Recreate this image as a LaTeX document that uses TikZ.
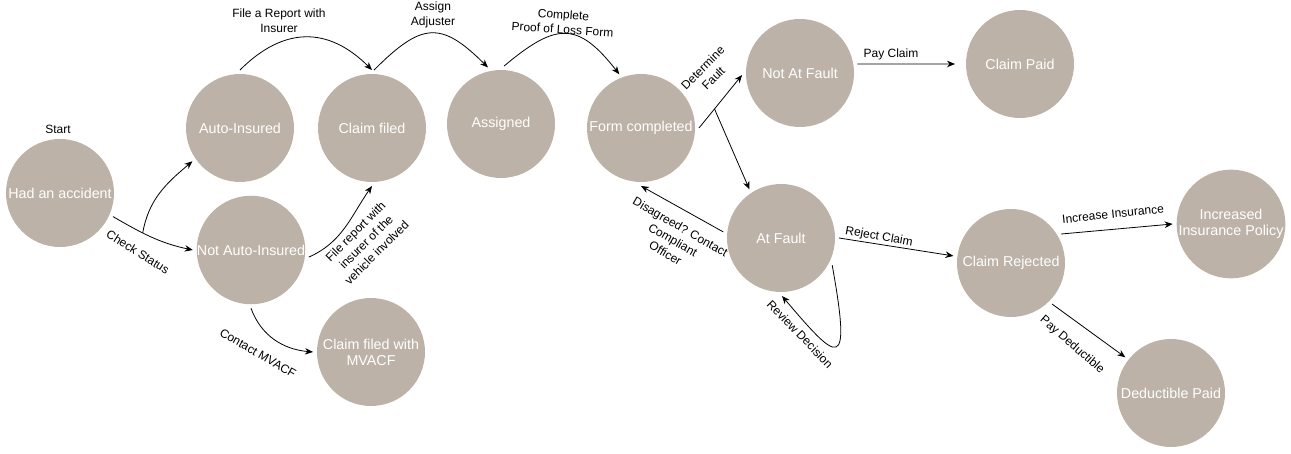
\documentclass[tikz,border=0pt]{standalone}
\usepackage{fontspec}
\setmainfont{Liberation Sans}
\usetikzlibrary{arrows.meta}
\definecolor{statefill}{RGB}{189,178,167}
\begin{document}
\begin{tikzpicture}[x=1pt,y=-1pt,
  state/.style={circle, fill=statefill, draw=none, minimum size=108pt, inner sep=0pt,
    outer sep=4pt, text=white, font=\fontsize{14.3}{16}\selectfont, align=center},
  flow/.style={-{Stealth[length=8pt,width=6.5pt]}, line width=0.8pt},
  lbl/.style={font=\fontsize{12}{15}\selectfont, align=center, inner sep=0pt}]
\useasboundingbox (0,0) rectangle (1291,454);

% states
\node[state] (ha)  at (60,193)   {Had an accident};
\node[state] (ai)  at (240,128)  {Auto-Insured};
\node[state] (nai) at (251,250)  {Not Auto-Insured};
\node[state] (cf)  at (372,128)  {Claim filed};
\node[state] (mv)  at (371,352)  {Claim filed with\\MVACF};
\node[state] (as)  at (501,124)  {Assigned};
\node[state] (fc)  at (641,128)  {Form completed};
\node[state] (naf) at (800,73)   {Not At Fault};
\node[state] (cp)  at (1020,64)  {Claim Paid};
\node[state] (af)  at (781,238)  {At Fault};
\node[state] (cr)  at (1011,263) {Claim Rejected};
\node[state] (iip) at (1231,224) {Increased\\Insurance Policy};
\node[state] (dp)  at (1171,393) {Deductible Paid};

\node[lbl] (start) at (58,129) {Start};

% transitions
\draw[flow] (ha.-24) to[out=-30, in=168] coordinate[pos=0.38] (cs) (nai.180);
\draw[flow] (cs) to[out=80, in=-140] (ai.-145);
\node[lbl, rotate=-32] (lcs) at (138,252) {Check Status};

\draw[flow] (ai.90) to[out=45, in=135, looseness=1.2] (cf.90);
\node[lbl] (lrep) at (279,21) {File a Report with\\Insurer};

\draw[flow] (cf.88) to[out=45, in=135, looseness=1.5] (as.103);
\node[lbl] (ladj) at (433,15) {Assign\\Adjuster};

\draw[flow] (as.87) to[out=40, in=128, looseness=1.5] (fc.112);
\node[lbl, rotate=-4] (lpol) at (563,22) {Complete\\Proof of Loss Form};

\draw[flow] (nai.-7) to[out=24, in=-125] (cf.-90);
\node[lbl, rotate=45] (lveh) at (366,242) {File report with\\insurer of the\\vehicle involved};

\draw[flow] (nai.-90) to[out=-70, in=175] (mv.180);
\node[lbl, rotate=-30] (lmv) at (258,353) {Contact MVACF};

\draw[flow] (fc.0) -- coordinate[pos=0.36] (df) (naf.182);
\draw[flow] (df) -- (af.123);
\node[lbl, rotate=45] (ldf) at (708,73) {Determine\\Fault};

\draw[flow] (af.174) -- (fc.-90);
\node[lbl, rotate=-30] (lco) at (673,240) {Disagreed? Contact\\Compliant\\Officer};

\draw[flow] (af.-28) .. controls (852,375) and (838,362) .. (af.-89);
\node[lbl, rotate=-46] (lrd) at (800,334) {Review Decision};

\draw[flow] (af.0) -- (cr.173);
\node[lbl, rotate=-10] (lrc) at (879,237) {Reject Claim};

\draw[flow] (cr.30) -- (iip.180);
\node[lbl, rotate=6] (lii) at (1113,214) {Increase Insurance};

\draw[flow] (cr.-45) -- (dp.142);
\node[lbl, rotate=-41] (lpd) at (1072,345) {Pay Deductible};

\draw[flow, shorten >=7pt] (naf.9) -- (cp.180);
\node[lbl] (lpc) at (891,54) {Pay Claim};
\end{tikzpicture}
\end{document}
